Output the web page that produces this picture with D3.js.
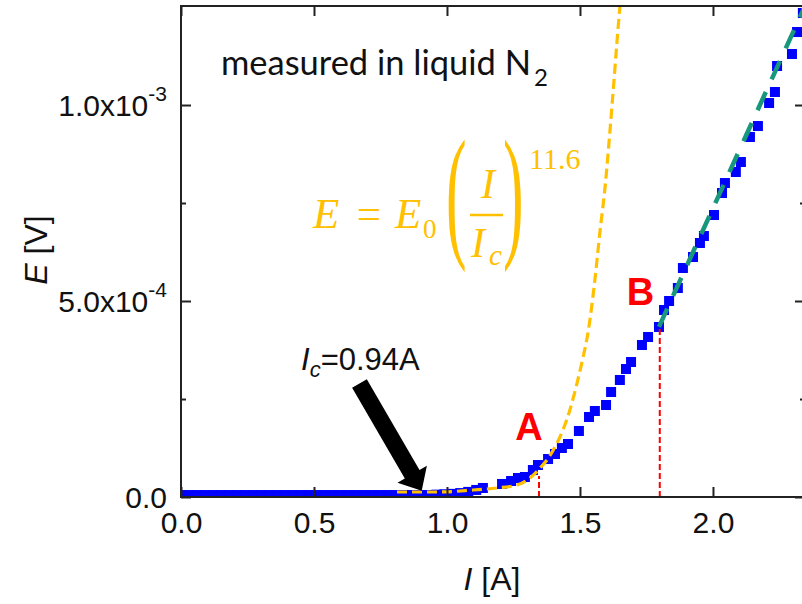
<!DOCTYPE html>
<html>
<head>
<meta charset="utf-8">
<script src="https://cdnjs.cloudflare.com/ajax/libs/d3/7.9.0/d3.min.js"></script>
<style>
  body { margin: 0; background: #fff; }
  svg { display: block; }
</style>
</head>
<body>
<script>
// measured E-I points (current in A, voltage in V)
const currentA = [0.00, 0.03, 0.06, 0.09, 0.12, 0.15, 0.18, 0.21, 0.24, 0.27, 0.30, 0.33, 0.36, 0.39,
  0.42, 0.45, 0.48, 0.51, 0.54, 0.57, 0.60, 0.63, 0.66, 0.69, 0.72, 0.75, 0.78, 0.81, 0.84, 0.87,
  0.90, 0.93, 0.96, 0.99, 1.02, 1.05, 1.08, 1.11,
  1.135, 1.207, 1.241, 1.267, 1.293, 1.323, 1.342, 1.380, 1.406, 1.432, 1.455, 1.496, 1.534, 1.556,
  1.598, 1.617, 1.650, 1.673, 1.692, 1.733, 1.756, 1.797, 1.816, 1.835, 1.868, 1.887, 1.925, 1.951,
  1.966, 2.004, 2.034, 2.045, 2.086, 2.105, 2.139, 2.169, 2.211, 2.233, 2.241, 2.297, 2.316, 2.338];
const voltageV = [5e-6, 5e-6, 5e-6, 5e-6, 5e-6, 5e-6, 5e-6, 5e-6, 5e-6, 5e-6, 5e-6, 5e-6, 5e-6, 5e-6,
  5e-6, 5e-6, 5e-6, 5e-6, 5e-6, 5e-6, 5e-6, 5e-6, 5e-6, 5e-6, 5e-6, 5e-6, 5e-6, 5e-6, 5e-6, 5e-6,
  5e-6, 5e-6, 6e-6, 7e-6, 8e-6, 1.0e-5, 1.3e-5, 1.8e-5,
  2.30e-5, 3.32e-5, 4.08e-5, 4.85e-5, 5.10e-5, 6.89e-5, 8.16e-5, 9.69e-5, 1.097e-4, 1.250e-4, 1.352e-4, 1.684e-4, 2.041e-4, 2.194e-4,
  2.347e-4, 2.679e-4, 2.985e-4, 3.265e-4, 3.444e-4, 3.878e-4, 4.082e-4, 4.337e-4, 4.770e-4, 5.000e-4, 5.332e-4, 5.842e-4, 6.122e-4, 6.480e-4,
  6.658e-4, 7.194e-4, 7.755e-4, 8.010e-4, 8.291e-4, 8.546e-4, 9.184e-4, 9.464e-4, 1.0051e-3, 1.0332e-3, 1.0995e-3, 1.1301e-3, 1.1862e-3, 1.2347e-3];

// power-law curve (orange dashed)
const fitI = [0.812, 0.974, 1.098, 1.188, 1.263, 1.312, 1.350, 1.376, 1.406, 1.436, 1.462, 1.489,
  1.511, 1.530, 1.556, 1.575, 1.594, 1.613, 1.628, 1.639, 1.650, 1.654];
const fitE = [1.28e-5, 1.28e-5, 1.79e-5, 2.30e-5, 3.06e-5, 4.85e-5, 7.40e-5, 9.44e-5, 1.276e-4, 1.709e-4, 2.219e-4, 2.908e-4,
  3.546e-4, 4.184e-4, 5.536e-4, 6.760e-4, 7.883e-4, 9.362e-4, 1.0638e-3, 1.1607e-3, 1.2500e-3, 1.28e-3];

// linear (flux-flow) fit above B
const lineI = [1.797, 2.346];
const lineE = [4.34e-4, 1.2526e-3];

// marked points A and B
const markI = [1.346, 1.800];
const markE = [5.36e-5, 4.31e-4];
const markNames = ["A", "B"];
const markLabelI = [1.308, 1.727];
const markLabelE = [1.46e-4, 4.9e-4];

const xTicks = [0, 0.5, 1.0, 1.5, 2.0];
const yMajor = [0, 5e-4, 1e-3];
const yMinor = [2.5e-4, 7.5e-4];
const yMant = ["0.0", "5.0x10", "1.0x10"];
const yExp = ["", "-4", "-3"];

const W = 802, H = 604;
const m = { left: 181, right: 805, top: 6, bottom: 497 };

const x = d3.scaleLinear().domain([0, 2.346]).range([m.left, m.right]);
const y = d3.scaleLinear().domain([0, 1.2526e-3]).range([m.bottom, m.top]);

const svg = d3.select("body").append("svg").attr("width", W).attr("height", H);

svg.append("clipPath").attr("id", "plot")
  .append("rect")
  .attr("x", m.left).attr("y", m.top)
  .attr("width", m.right - m.left).attr("height", m.bottom - m.top);

const plot = svg.append("g").attr("clip-path", "url(#plot)");

// measured squares
const pts = currentA.map((c, i) => [c, voltageV[i]]);
plot.selectAll("rect.pt").data(pts).enter().append("rect")
  .attr("class", "pt")
  .attr("x", d => x(d[0]) - 5).attr("y", d => y(d[1]) - 5)
  .attr("width", 10).attr("height", 10)
  .attr("fill", "#0000ff");

// red dashed drop lines at A and B
plot.selectAll("line.mark").data(markI).enter().append("line")
  .attr("class", "mark")
  .attr("x1", d => x(d)).attr("x2", d => x(d))
  .attr("y1", y(0)).attr("y2", (d, i) => y(markE[i]))
  .attr("stroke", "#ff0000").attr("stroke-width", 2)
  .attr("stroke-dasharray", "6,3");

// power-law curve
const line = d3.line().x(d => x(d[0])).y(d => y(d[1])).curve(d3.curveMonotoneX);
plot.append("path")
  .datum(fitI.map((c, i) => [c, fitE[i]]))
  .attr("d", line)
  .attr("fill", "none").attr("stroke", "#ffc000")
  .attr("stroke-width", 3.2).attr("stroke-dasharray", "10,5");

// linear fit
plot.append("path")
  .datum(lineI.map((c, i) => [c, lineE[i]]))
  .attr("d", d3.line().x(d => x(d[0])).y(d => y(d[1])))
  .attr("fill", "none").attr("stroke", "#17977b")
  .attr("stroke-width", 4.5).attr("stroke-dasharray", "20,14");

// axes: inward ticks
const tickStyle = g => {
  g.select(".domain").remove();
  g.selectAll(".tick line").attr("stroke", "#222").attr("stroke-width", 2);
};
svg.append("g").attr("transform", `translate(0,${m.bottom})`)
  .call(d3.axisBottom(x).tickValues(xTicks).tickSize(-10).tickSizeOuter(0).tickPadding(15)
    .tickFormat(d3.format(".1f")))
  .call(tickStyle)
  .call(g => g.selectAll("text").attr("font-size", 30).attr("fill", "#111")
    .attr("font-family", "'Liberation Sans', Arial, sans-serif"));
svg.append("g").attr("transform", `translate(0,${m.top})`)
  .call(d3.axisTop(x).tickValues(xTicks).tickSize(-10).tickSizeOuter(0).tickFormat(""))
  .call(tickStyle);
svg.append("g").attr("transform", `translate(${m.left},0)`)
  .call(d3.axisLeft(y).tickValues(yMajor).tickSize(-10).tickSizeOuter(0).tickFormat(""))
  .call(tickStyle);
svg.append("g").attr("transform", `translate(${m.left},0)`)
  .call(d3.axisLeft(y).tickValues(yMinor).tickSize(-5).tickSizeOuter(0).tickFormat(""))
  .call(tickStyle);
svg.append("g").attr("transform", `translate(${m.right},0)`)
  .call(d3.axisRight(y).tickValues(yMajor).tickSize(-10).tickSizeOuter(0).tickFormat(""))
  .call(tickStyle);
svg.append("g").attr("transform", `translate(${m.right},0)`)
  .call(d3.axisRight(y).tickValues(yMinor).tickSize(-5).tickSizeOuter(0).tickFormat(""))
  .call(tickStyle);

svg.append("rect")
  .attr("x", m.left).attr("y", m.top)
  .attr("width", m.right - m.left).attr("height", m.bottom - m.top)
  .attr("fill", "none").attr("stroke", "#222").attr("stroke-width", 2);

// y tick labels with superscript exponents
const yl = svg.append("g")
  .attr("font-family", "'Liberation Sans', Arial, sans-serif")
  .attr("font-size", 30).attr("fill", "#111");
yMajor.forEach((v, i) => {
  const t = yl.append("text").attr("x", 167).attr("y", y(v) + 11).attr("text-anchor", "end");
  t.append("tspan").text(yMant[i]);
  if (yExp[i]) t.append("tspan").attr("dy", -15).attr("font-size", 21).text(yExp[i]);
});

// axis titles
const xt = svg.append("text")
  .attr("x", 492).attr("y", 590).attr("text-anchor", "middle")
  .attr("font-family", "'Liberation Sans', Arial, sans-serif").attr("font-size", 32).attr("fill", "#111");
xt.append("tspan").attr("font-style", "italic").text("I");
xt.append("tspan").text(" [A]");

const ytl = svg.append("text")
  .attr("transform", "translate(47,250) rotate(-90)").attr("text-anchor", "middle")
  .attr("font-family", "'Liberation Sans', Arial, sans-serif").attr("font-size", 32).attr("fill", "#111");
ytl.append("tspan").attr("font-style", "italic").text("E");
ytl.append("tspan").text(" [V]");

// annotation: measured in liquid N2
svg.append("text")
  .attr("x", 221).attr("y", 75)
  .attr("font-family", "Lato, 'Open Sans', sans-serif").attr("font-size", 35).attr("fill", "#111")
  .attr("textLength", 310).attr("lengthAdjust", "spacingAndGlyphs")
  .text("measured in liquid N");
svg.append("text")
  .attr("x", 534).attr("y", 86)
  .attr("font-family", "Lato, 'Open Sans', sans-serif").attr("font-size", 24).attr("fill", "#111")
  .text("2");

// power-law formula
const fm = svg.append("g").attr("fill", "#ffc000")
  .attr("font-family", "'Liberation Serif', 'DejaVu Serif', serif");
fm.append("text").attr("x", 313).attr("y", 228).attr("font-size", 43).attr("font-style", "italic").text("E");
fm.append("text").attr("x", 369).attr("y", 228).attr("font-size", 43).attr("text-anchor", "middle").text("=");
fm.append("text").attr("x", 395).attr("y", 228).attr("font-size", 43).attr("font-style", "italic").text("E");
fm.append("text").attr("x", 423).attr("y", 238).attr("font-size", 27).text("0");
fm.append("text").attr("transform", "translate(446,241) scale(1.4,3.3)").attr("font-size", 44).text("(");
fm.append("text").attr("x", 481).attr("y", 198).attr("font-size", 42).attr("font-style", "italic").text("I");
fm.append("line").attr("x1", 470).attr("x2", 503).attr("y1", 215).attr("y2", 215)
  .attr("stroke", "#ffc000").attr("stroke-width", 2.5);
fm.append("text").attr("x", 471).attr("y", 257).attr("font-size", 42).attr("font-style", "italic").text("I");
fm.append("text").attr("x", 489).attr("y", 265).attr("font-size", 29).attr("font-style", "italic").text("c");
fm.append("text").attr("transform", "translate(503,241) scale(1.4,3.3)").attr("font-size", 44).text(")");
fm.append("text").attr("x", 529).attr("y", 169).attr("font-size", 30).text("11.6");

// Ic arrow
const tail = [x(0.671), y(2.895e-4)], tip = [x(0.905), y(1.6e-5)];
const dx = tip[0] - tail[0], dy = tip[1] - tail[1], len = Math.hypot(dx, dy);
const ux = dx / len, uy = dy / len, px = -uy, py = ux;
const sw = 8.5, hw = 17, hl = 19;
const bx = tip[0] - ux * hl, by = tip[1] - uy * hl;
const arrowPts = [
  [tail[0] + px * sw, tail[1] + py * sw],
  [bx + px * sw, by + py * sw],
  [bx + px * hw, by + py * hw],
  tip,
  [bx - px * hw, by - py * hw],
  [bx - px * sw, by - py * sw],
  [tail[0] - px * sw, tail[1] - py * sw]
];
svg.append("path").attr("d", "M" + arrowPts.map(p => p.join(",")).join("L") + "Z").attr("fill", "#000");

const ic = svg.append("text").attr("x", 301).attr("y", 370)
  .attr("font-family", "'Liberation Sans', Arial, sans-serif").attr("font-size", 31).attr("fill", "#111");
ic.append("tspan").attr("font-style", "italic").text("I");
ic.append("tspan").attr("font-style", "italic").attr("font-size", 22).attr("dy", 7).text("c");
ic.append("tspan").attr("dy", -7).text("=0.94A");

// A / B labels
svg.selectAll("text.mk").data(markNames).enter().append("text")
  .attr("class", "mk")
  .attr("x", (d, i) => x(markLabelI[i])).attr("y", (d, i) => y(markLabelE[i]))
  .attr("text-anchor", "middle")
  .attr("font-family", "'Liberation Sans', Arial, sans-serif").attr("font-weight", "bold")
  .attr("font-size", 38).attr("fill", "#ff0000")
  .text(d => d);
</script>
</body>
</html>
